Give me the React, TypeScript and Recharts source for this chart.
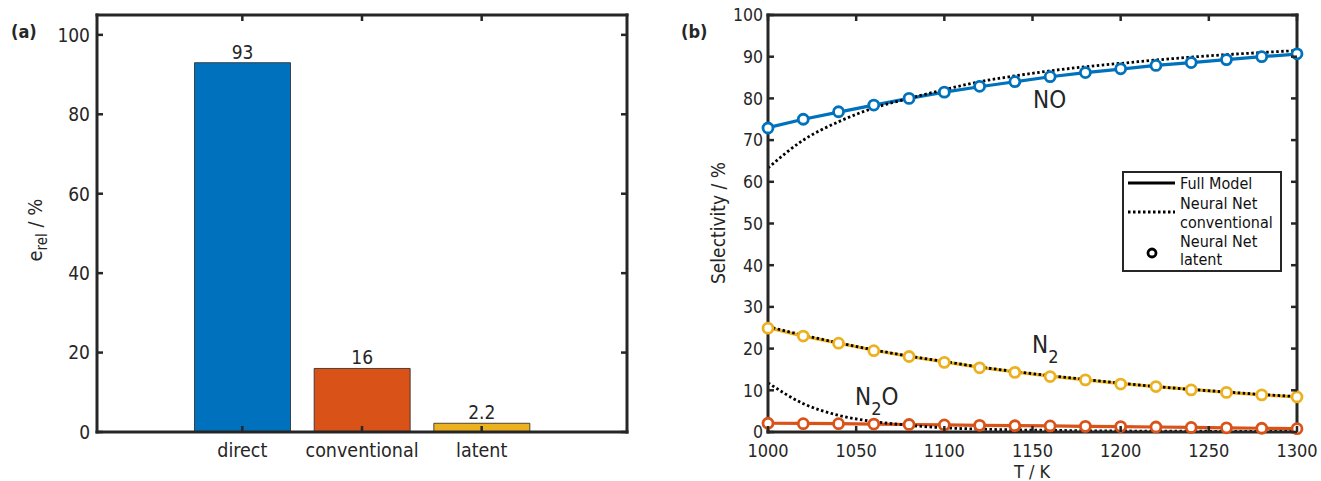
import { ComposedChart, Bar, Cell, Line, XAxis, YAxis, LabelList } from 'recharts';

const categories = ['direct', 'conventional', 'latent'];
const relErrors = [93, 16, 2.2];
const errorLabels = ['93', '16', '2.2'];
const barColors = ['#0072BD', '#D95319', '#EDB120'];
const errorTicks = [0, 20, 40, 60, 80, 100];

const temps = [1000, 1020, 1040, 1060, 1080, 1100, 1120, 1140, 1160, 1180, 1200, 1220, 1240, 1260, 1280, 1300];
const tempTicks = [1000, 1050, 1100, 1150, 1200, 1250, 1300];
const selTicks = [0, 10, 20, 30, 40, 50, 60, 70, 80, 90, 100];

const noFull = [73.0, 75.0, 76.7, 78.4, 80.0, 81.5, 82.8, 84.0, 85.2, 86.2, 87.0, 87.9, 88.6, 89.3, 90.0, 90.6];
const noConv = [63.3, 70.0, 74.4, 77.7, 80.0, 82.1, 84.0, 85.4, 86.6, 87.6, 88.4, 89.2, 89.9, 90.5, 91.0, 91.5];
const noLatent = [72.9, 75.0, 76.8, 78.4, 80.0, 81.5, 82.9, 84.0, 85.2, 86.2, 87.1, 87.9, 88.6, 89.3, 90.0, 90.7];

const n2Full = [25.0, 23.0, 21.3, 19.6, 18.1, 16.8, 15.5, 14.4, 13.4, 12.5, 11.6, 10.9, 10.2, 9.5, 8.9, 8.4];
const n2Conv = [25.3, 23.2, 21.4, 19.7, 18.2, 16.9, 15.6, 14.5, 13.5, 12.6, 11.7, 10.9, 10.2, 9.6, 9.0, 8.5];
const n2Latent = [24.9, 23.0, 21.3, 19.5, 18.1, 16.7, 15.4, 14.3, 13.3, 12.5, 11.5, 10.9, 10.1, 9.5, 8.9, 8.4];

const n2oFull = [2.1, 2.05, 2.0, 1.9, 1.8, 1.7, 1.6, 1.55, 1.45, 1.35, 1.3, 1.2, 1.1, 1.0, 0.9, 0.8];
const n2oConv = [11.8, 6.8, 4.0, 2.5, 1.6, 1.0, 0.7, 0.5, 0.4, 0.3, 0.25, 0.2, 0.2, 0.15, 0.15, 0.1];
const n2oLatent = [2.1, 2.0, 2.0, 1.9, 1.8, 1.7, 1.6, 1.5, 1.45, 1.35, 1.3, 1.2, 1.1, 1.0, 0.9, 0.8];

const AX = '#262626';
const FONT = '"DejaVu Sans Condensed", "DejaVu Sans", sans-serif';

const barData = categories.map((name, i) => ({
  name,
  value: relErrors[i],
  label: errorLabels[i],
}));

const lineData = temps.map((T, i) => ({
  T,
  noFull: noFull[i],
  noConv: noConv[i],
  noLatent: noLatent[i],
  n2Full: n2Full[i],
  n2Conv: n2Conv[i],
  n2Latent: n2Latent[i],
  n2oFull: n2oFull[i],
  n2oConv: n2oConv[i],
  n2oLatent: n2oLatent[i],
}));

// inward ticks, labels drawn by hand (MATLAB style)
const BottomTick = ({ x, y, payload, fs }: any) => (
  <g>
    <line x1={x} y1={y} x2={x} y2={y - 6} stroke={AX} strokeWidth={2.5} />
    <text x={x} y={y + 25} textAnchor="middle" fill={AX} fontSize={fs} fontFamily={FONT}>
      {payload.value}
    </text>
  </g>
);

const LeftTick = ({ x, y, payload, fs, gap }: any) => (
  <g>
    <line x1={x} y1={y} x2={x + 6} y2={y} stroke={AX} strokeWidth={2.5} />
    <text x={x - gap} y={y} dy="0.36em" textAnchor="end" fill={AX} fontSize={fs} fontFamily={FONT}>
      {payload.value}
    </text>
  </g>
);

const TopTick = ({ x, y }: any) => <line x1={x} y1={y} x2={x} y2={y + 6} stroke={AX} strokeWidth={2.5} />;
const RightTick = ({ x, y }: any) => <line x1={x} y1={y} x2={x - 6} y2={y} stroke={AX} strokeWidth={2.5} />;

const axisLine = { stroke: AX, strokeWidth: 3, strokeLinecap: 'square' as const };

const hidden = {
  stroke: 'none',
  dot: false,
  activeDot: false,
  legendType: 'none' as const,
  isAnimationActive: false,
};

function ErrorChart() {
  const pad = { left: 85.5, right: 85.5 };
  return (
    <ComposedChart width={660} height={481} data={barData} margin={{ top: 10, right: 23, bottom: 19, left: 57 }}>
      <XAxis dataKey="name" xAxisId="bottom" padding={pad} axisLine={axisLine} tickLine={false} tickSize={0} tickMargin={0} height={30} tick={<BottomTick fs={19.5} />} interval={0} />
      <XAxis dataKey="name" xAxisId="top" orientation="top" padding={pad} axisLine={axisLine} tickLine={false} tickSize={0} tickMargin={0} height={5} tick={<TopTick />} interval={0} />
      <YAxis yAxisId="left" domain={[0, 105]} ticks={errorTicks} axisLine={axisLine} tickLine={false} tickSize={0} tickMargin={0} width={40} tick={<LeftTick fs={19} gap={7} />} interval={0} />
      <YAxis yAxisId="right" orientation="right" domain={[0, 105]} ticks={errorTicks} axisLine={axisLine} tickLine={false} tickSize={0} tickMargin={0} width={10} tick={<RightTick />} interval={0} />
      <Bar dataKey="value" xAxisId="bottom" yAxisId="left" barSize={96} stroke={AX} strokeWidth={0.8} isAnimationActive={false}>
        {barData.map((d, i) => (
          <Cell key={d.name} fill={barColors[i]} />
        ))}
        <LabelList dataKey="label" position="top" offset={4} fill={AX} fontSize={19} fontFamily={FONT} />
      </Bar>
      <Line dataKey="value" xAxisId="top" yAxisId="right" {...hidden} />
    </ComposedChart>
  );
}

function SelectivityChart() {
  const solid = (key: string, color: string) => (
    <Line key={key} type="linear" dataKey={key} xAxisId="bottom" yAxisId="left" stroke={color} strokeWidth={3.2} dot={false} activeDot={false} isAnimationActive={false} />
  );
  const dotted = (key: string) => (
    <Line key={key} type="monotone" dataKey={key} xAxisId="bottom" yAxisId="left" stroke="#000" strokeWidth={2.8} strokeDasharray="2.5 2.5" dot={false} activeDot={false} isAnimationActive={false} />
  );
  const circles = (key: string, color: string) => (
    <Line key={key} dataKey={key} xAxisId="bottom" yAxisId="left" stroke="none" dot={{ r: 5, fill: '#fff', stroke: color, strokeWidth: 2.8 }} activeDot={false} isAnimationActive={false} />
  );
  return (
    <ComposedChart width={661} height={481} data={lineData} margin={{ top: 10, right: 14, bottom: 19, left: 68 }}>
      <XAxis dataKey="T" type="number" xAxisId="bottom" domain={[1000, 1300]} ticks={tempTicks} axisLine={axisLine} tickLine={false} tickSize={0} tickMargin={0} height={30} tick={<BottomTick fs={18} />} interval={0} />
      <XAxis dataKey="T" type="number" xAxisId="top" orientation="top" domain={[1000, 1300]} ticks={tempTicks} axisLine={axisLine} tickLine={false} tickSize={0} tickMargin={0} height={5} tick={<TopTick />} interval={0} />
      <YAxis yAxisId="left" domain={[0, 100]} ticks={selTicks} axisLine={axisLine} tickLine={false} tickSize={0} tickMargin={0} width={40} tick={<LeftTick fs={17.5} gap={5} />} interval={0} />
      <YAxis yAxisId="right" orientation="right" domain={[0, 100]} ticks={selTicks} axisLine={axisLine} tickLine={false} tickSize={0} tickMargin={0} width={10} tick={<RightTick />} interval={0} />
      {solid('n2oFull', '#D95319')}
      {solid('n2Full', '#EDB120')}
      {solid('noFull', '#0072BD')}
      {dotted('n2oConv')}
      {dotted('n2Conv')}
      {dotted('noConv')}
      {circles('n2oLatent', '#D95319')}
      {circles('n2Latent', '#EDB120')}
      {circles('noLatent', '#0072BD')}
      <Line dataKey="noFull" xAxisId="top" yAxisId="right" {...hidden} />
    </ComposedChart>
  );
}

function LegendBox() {
  return (
    <div style={{ position: 'absolute', left: 1122, top: 171, width: 160, height: 101, boxSizing: 'border-box', border: `2.5px solid ${AX}`, background: '#fff' }}>
      <svg width={155} height={96} style={{ position: 'absolute', left: 0, top: 0, overflow: 'visible' }} fontFamily={FONT} fontSize={16} fill="#111">
        <line x1={4} y1={10} x2={51} y2={10} stroke="#000" strokeWidth={3} />
        <text x={56} y={16}>Full Model</text>
        <line x1={4} y1={39} x2={51} y2={39} stroke="#000" strokeWidth={2.8} strokeDasharray="2.5 2.5" />
        <text x={56} y={35.5}>Neural Net</text>
        <text x={56} y={54.5}>conventional</text>
        <circle cx={28} cy={80} r={4} fill="#fff" stroke="#000" strokeWidth={2.8} />
        <text x={56} y={73.5}>Neural Net</text>
        <text x={56} y={92}>latent</text>
      </svg>
    </div>
  );
}

export default function App() {
  return (
    <div style={{ position: 'absolute', left: 0, top: 0, width: 1321, height: 481, background: '#fff', fontFamily: FONT }}>
      <div style={{ position: 'absolute', left: 0, top: 0 }}>
        <ErrorChart />
      </div>
      <div style={{ position: 'absolute', left: 660, top: 0 }}>
        <SelectivityChart />
      </div>
      <svg width={1321} height={481} style={{ position: 'absolute', left: 0, top: 0, pointerEvents: 'none' }} fontFamily={FONT} fill={AX}>
        <text x={11} y={38} fontSize={18} fontWeight="bold">(a)</text>
        <text x={681} y={38} fontSize={18} fontWeight="bold">(b)</text>
        <text x={42} y={230} fontSize={20} textAnchor="middle" transform="rotate(-90 42 230)">
          e<tspan fontSize={15} dy={5}>rel</tspan><tspan dy={-5}> / %</tspan>
        </text>
        <text x={725} y={223} fontSize={19} textAnchor="middle" transform="rotate(-90 725 223)">
          Selectivity / %
        </text>
        <text x={1032} y={478} fontSize={18} textAnchor="middle">T / K</text>
        <text x={1033} y={108} fontSize={24}>NO</text>
        <text x={1032} y={353} fontSize={24}>
          N<tspan fontSize={18} dy={10}>2</tspan>
        </text>
        <text x={855} y={405} fontSize={24}>
          N<tspan fontSize={18} dy={10}>2</tspan><tspan dy={-10}>O</tspan>
        </text>
      </svg>
      <LegendBox />
    </div>
  );
}
